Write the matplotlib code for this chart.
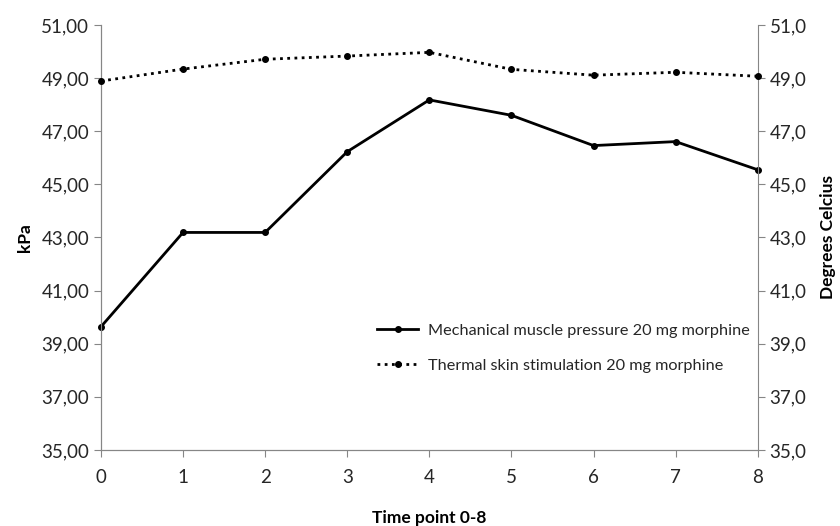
import matplotlib
matplotlib.use("Agg")
import matplotlib.pyplot as plt
from matplotlib.ticker import FuncFormatter, FixedLocator

plt.rcParams['font.family'] = ['Lato', 'DejaVu Sans']

# data
time_points = [0, 1, 2, 3, 4, 5, 6, 7, 8]
pressure_kpa = [39.64, 43.19, 43.19, 46.23, 48.18, 47.60, 46.46, 46.61, 45.55]
skin_temp_c = [48.89, 49.34, 49.71, 49.83, 49.97, 49.33, 49.11, 49.22, 49.07]
y_ticks = [35, 37, 39, 41, 43, 45, 47, 49, 51]
label_pressure = 'Mechanical muscle pressure 20 mg morphine'
label_thermal = 'Thermal skin stimulation 20 mg morphine'

grey = '#868686'
txt = '#262626'

fig = plt.figure(figsize=(8.4, 5.26), dpi=100)
ax = fig.add_axes([0.1202, 0.1445, 0.7818, 0.808])
ax2 = ax.twinx()

l1, = ax.plot(time_points, pressure_kpa, color='black', lw=2, marker='o', ms=4,
              label=label_pressure, clip_on=False, zorder=3)
l2, = ax2.plot(time_points, skin_temp_c, color='black', lw=2, ls=(0, (1, 1.6)),
               marker='o', ms=4, label=label_thermal, clip_on=False, zorder=3)

for a in (ax, ax2):
    a.set_ylim(35, 51)
    a.yaxis.set_major_locator(FixedLocator(y_ticks))
    for s in a.spines.values():
        s.set_color(grey)
    a.spines['top'].set_visible(False)
    a.tick_params(colors=grey, labelcolor=txt, labelsize=13.5, length=5)
ax.set_xlim(0, 8)
ax.set_xticks(time_points)
ax.spines['right'].set_visible(False)
ax.yaxis.set_major_formatter(FuncFormatter(lambda v, p: f'{v:.2f}'.replace('.', ',')))
ax2.yaxis.set_major_formatter(FuncFormatter(lambda v, p: f'{v:.1f}'.replace('.', ',')))
ax.tick_params(axis='x', pad=9)

ax.set_ylabel('kPa', fontsize=12.5, fontweight='bold', color='black', labelpad=6)
ax2.set_ylabel('Degrees Celcius', fontsize=12.5, fontweight='bold', color='black', labelpad=10)
ax.set_xlabel('Time point 0-8', fontsize=12.5, fontweight='bold', color='black', labelpad=17)

leg = ax.legend(handles=[l1, l2], loc='lower right', bbox_to_anchor=(1.0, 0.163),
                frameon=False, fontsize=11.7, handlelength=2.5, handletextpad=0.6,
                labelspacing=1.26, labelcolor=txt, borderaxespad=0.1)

fig.savefig('out.png', dpi=100)
